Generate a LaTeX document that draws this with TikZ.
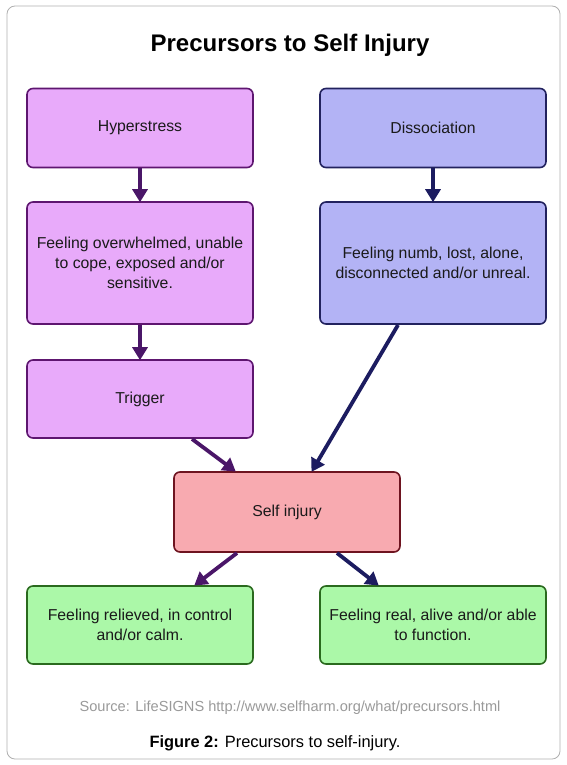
\documentclass[tikz,border=0pt]{standalone}
\usepackage{fontspec}
\setmainfont{Liberation Sans}
\usetikzlibrary{arrows.meta}
\definecolor{pfill}{HTML}{E8AAFA}
\definecolor{pdraw}{HTML}{5E1670}
\definecolor{bfill}{HTML}{B3B3F5}
\definecolor{bdraw}{HTML}{22225E}
\definecolor{rfill}{HTML}{F8AAB0}
\definecolor{rdraw}{HTML}{6E1420}
\definecolor{gfill}{HTML}{ABF8A8}
\definecolor{gdraw}{HTML}{2A6A1E}
\definecolor{parr}{HTML}{4A1668}
\definecolor{barr}{HTML}{1C1C60}
\definecolor{srcgray}{HTML}{9A9A9A}
\definecolor{framegray}{HTML}{B0B0B0}
\definecolor{txt}{HTML}{1A1A1A}
\tikzset{
  box/.style={rounded corners=6pt, line width=1.6pt, minimum width=226pt, align=center, font=\fontsize{15.8}{20}\selectfont, text=txt, inner sep=0pt},
  pbox/.style={box, fill=pfill, draw=pdraw},
  bbox/.style={box, fill=bfill, draw=bdraw},
  rbox/.style={box, fill=rfill, draw=rdraw},
  gbox/.style={box, fill=gfill, draw=gdraw},
  parrow/.style={draw=parr, line width=3.8pt, -{Triangle[length=13pt,width=15pt]}, shorten >=-1pt},
  barrow/.style={draw=barr, line width=3.8pt, -{Triangle[length=13pt,width=15pt]}, shorten >=-1pt},
}
\begin{document}
\begin{tikzpicture}[x=1pt,y=-1pt]
\useasboundingbox (0,0) rectangle (566,765);
\fill[white] (0,0) rectangle (566,765);
\draw[framegray, line width=0.8pt, rounded corners=8pt] (7,6) rectangle (560,759);
\node[font=\fontsize{24}{28}\selectfont\bfseries] (title) at (290,45) {Precursors to Self Injury};
\node[pbox, minimum height=79pt] (hyper) at (140,128) {Hyperstress};
\node[bbox, minimum height=79pt] (dissoc) at (433,128) {Dissociation};
\node[pbox, minimum height=122pt] (overw) at (140,263) {Feeling overwhelmed, unable\\to cope, exposed and/or\\sensitive.};
\node[bbox, minimum height=122pt] (numb) at (433,263) {Feeling numb, lost, alone,\\disconnected and/or unreal.};
\node[pbox, minimum height=78pt] (trig) at (140,399) {Trigger};
\node[rbox, minimum height=80pt] (self) at (287,512) {Self injury};
\node[gbox, minimum height=78pt] (relief) at (140,625) {Feeling relieved, in control\\and/or calm.};
\node[gbox, minimum height=78pt] (real) at (433,625) {Feeling real, alive and/or able\\to function.};
\draw[parrow] (hyper.south) -- (overw.north);
\draw[barrow] (dissoc.south) -- (numb.north);
\draw[parrow] (overw.south) -- (trig.north);
\coordinate (t1) at (192,439);
\coordinate (s1) at (235,471);
\draw[parrow] (t1) -- (s1);
\coordinate (n1) at (398,325);
\coordinate (s2) at (312,471);
\draw[barrow] (n1) -- (s2);
\coordinate (s3) at (237,553);
\coordinate (r1) at (195,585);
\draw[parrow] (s3) -- (r1);
\coordinate (s4) at (337,553);
\coordinate (r2) at (378,585);
\draw[barrow] (s4) -- (r2);
\node[font=\fontsize{14.6}{17}\selectfont, text=srcgray] (src) at (290,708) {Source: LifeSIGNS http://www.selfharm.org/what/precursors.html};
\node[font=\fontsize{16.4}{19}\selectfont] (cap) at (275,743) {\textbf{Figure 2:} Precursors to self-injury.};
\end{tikzpicture}
\end{document}
